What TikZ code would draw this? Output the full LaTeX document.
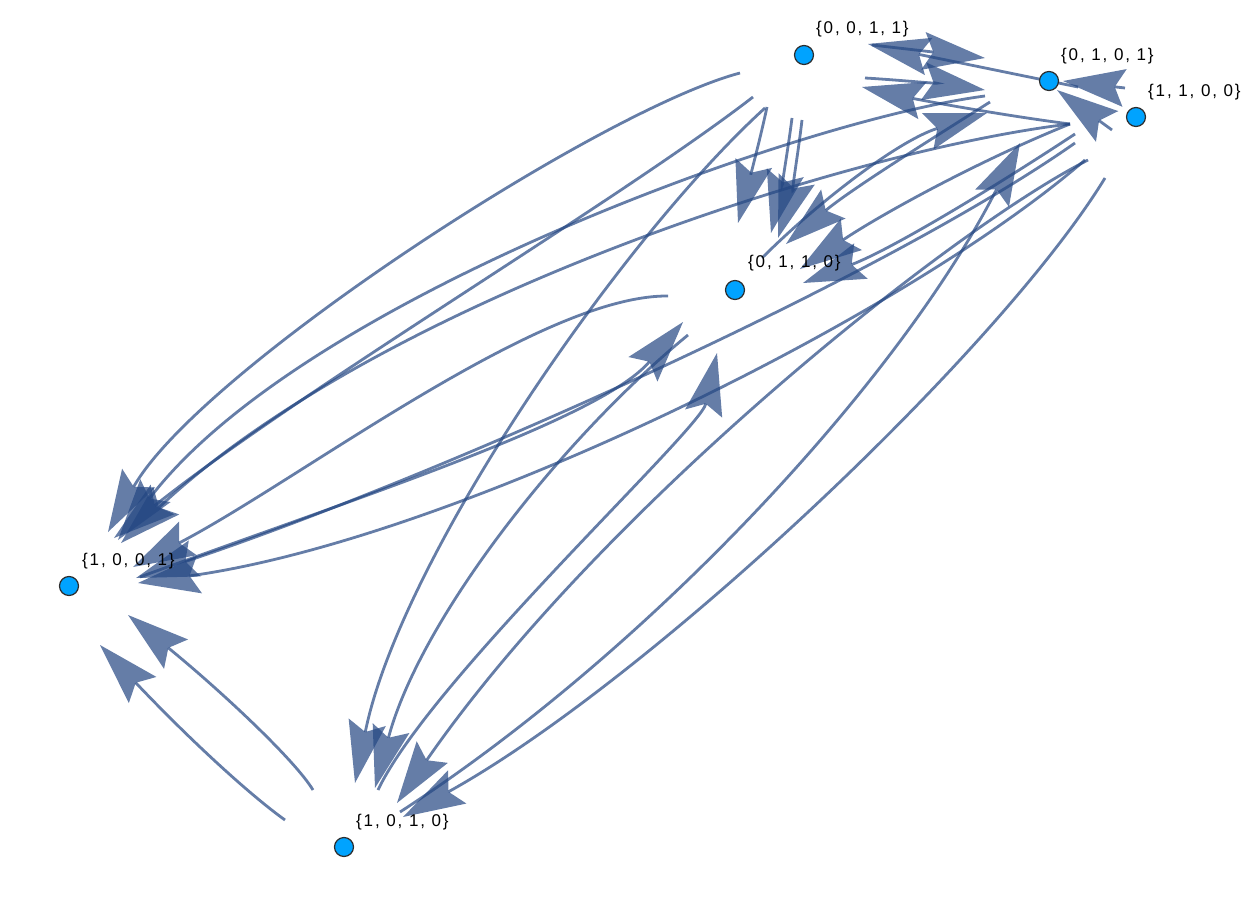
\documentclass[tikz,border=0pt]{standalone}
\usepackage{fontspec}
\newfontfamily\labfont[LetterSpace=11]{Liberation Sans}
\usetikzlibrary{arrows.meta}
\definecolor{ecol}{RGB}{35,70,130}
\definecolor{vfill}{RGB}{0,163,255}
\definecolor{vline}{RGB}{45,45,45}
\begin{document}
\begin{tikzpicture}[x=1pt,y=-1pt,
  edge/.style={draw=ecol, opacity=0.7, line width=2.8pt, -{Stealth[length=62pt,width=38pt,inset=10pt,line width=0pt]}},
  vert/.style={circle, fill=vfill, draw=vline, line width=1.2pt, minimum size=19pt, inner sep=0pt},
  lab/.style={anchor=base west, inner sep=0pt, font=\labfont\fontsize{17}{19}\selectfont}]
\useasboundingbox (0,0) rectangle (1248,904);
% ---- edge end points ----
\coordinate (e1s) at (740,73);   \coordinate (e1t) at (108,532);
\coordinate (e2s) at (753,97);   \coordinate (e2t) at (114,538);
\coordinate (e3s) at (985,96);   \coordinate (e3t) at (118,540);
\coordinate (e4s) at (1070,124); \coordinate (e4t) at (121,543);
\coordinate (e5s) at (668,296);  \coordinate (e5t) at (133,567);
\coordinate (e6s) at (1075,143); \coordinate (e6t) at (136,578);
\coordinate (e7s) at (1085,160); \coordinate (e7t) at (138,583);
\coordinate (e8s) at (285,820);  \coordinate (e8t) at (100,645);
\coordinate (e9s) at (313,790);  \coordinate (e9t) at (128,615);
\coordinate (d1s) at (767,107);  \coordinate (d1t) at (738,223);
\coordinate (d2s) at (792,118);  \coordinate (d2t) at (771,233);
\coordinate (d3s) at (802,120);  \coordinate (d3t) at (778,238);
\coordinate (d4s) at (990,102);  \coordinate (d4t) at (786,244);
\coordinate (d5s) at (1070,124); \coordinate (d5t) at (800,269);
\coordinate (d6s) at (1075,134); \coordinate (d6t) at (803,283);
\coordinate (d7s) at (140,577);  \coordinate (d7t) at (683,322);
\coordinate (d8s) at (378,790);  \coordinate (d8t) at (717,353);
\coordinate (f1s) at (765,108);  \coordinate (f1t) at (355,783);
\coordinate (f2s) at (688,335);  \coordinate (f2t) at (375,788);
\coordinate (f3s) at (1088,160); \coordinate (f3t) at (397,803);
\coordinate (f4s) at (1105,178); \coordinate (f4t) at (403,817);
\coordinate (t1s) at (1078,87);  \coordinate (t1t) at (868,44);
\coordinate (t2s) at (872,45);   \coordinate (t2t) at (985,58);
\coordinate (t3s) at (1125,88);  \coordinate (t3t) at (1063,81);
\coordinate (t4s) at (1112,130); \coordinate (t4t) at (1057,90);
\coordinate (t5s) at (865,78);   \coordinate (t5t) at (985,90);
\coordinate (t6s) at (1070,124); \coordinate (t6t) at (862,87);
\coordinate (t7s) at (762,258);  \coordinate (t7t) at (987,113);
\coordinate (t8s) at (400,812);  \coordinate (t8t) at (1020,143);
% ---- edges ----
\draw[edge] (e1s) .. controls (600,110) and (200,370) .. (e1t);
\draw[edge] (e2s) .. controls (620,200) and (300,390) .. (e2t);
\draw[edge] (e3s) .. controls (800,120) and (300,300) .. (e3t);
\draw[edge] (e4s) .. controls (850,150) and (380,300) .. (e4t);
\draw[edge] (e5s) .. controls (540,295) and (300,480) .. (e5t);
\draw[edge] (e6s) .. controls (880,280) and (430,480) .. (e6t);
\draw[edge] (e7s) .. controls (900,320) and (450,540) .. (e7t);
\draw[edge] (e8s) .. controls (250,795) and (190,740) .. (e8t);
\draw[edge] (e9s) .. controls (295,760) and (220,690) .. (e9t);
\draw[edge] (d1s) .. controls (760,140) and (748,185) .. (d1t);
\draw[edge] (d2s) .. controls (788,150) and (780,195) .. (d2t);
\draw[edge] (d3s) .. controls (798,155) and (790,200) .. (d3t);
\draw[edge] (d4s) .. controls (930,140) and (850,190) .. (d4t);
\draw[edge] (d5s) .. controls (980,160) and (880,215) .. (d5t);
\draw[edge] (d6s) .. controls (990,190) and (890,250) .. (d6t);
\draw[edge] (d7s) .. controls (350,500) and (600,420) .. (d7t);
\draw[edge] (d8s) .. controls (430,680) and (700,430) .. (d8t);
\draw[edge] (f1s) .. controls (620,240) and (400,560) .. (f1t);
\draw[edge] (f2s) .. controls (560,440) and (420,620) .. (f2t);
\draw[edge] (f3s) .. controls (950,230) and (600,510) .. (f3t);
\draw[edge] (f4s) .. controls (1000,350) and (650,680) .. (f4t);
\draw[edge] (t1s) -- (t1t);
\draw[edge] (t2s) -- (t2t);
\draw[edge] (t3s) -- (t3t);
\draw[edge] (t4s) -- (t4t);
\draw[edge] (t5s) .. controls (900,80) and (950,85) .. (t5t);
\draw[edge] (t6s) .. controls (1000,115) and (920,100) .. (t6t);
\draw[edge] (t7s) .. controls (820,200) and (900,140) .. (t7t);
\draw[edge] (t8s) .. controls (650,650) and (900,380) .. (t8t);
% ---- vertices ----
\node[vert] (A) at (804,55) {};
\node[vert] (B) at (1049,81) {};
\node[vert] (C) at (1136,117) {};
\node[vert] (D) at (735,290) {};
\node[vert] (E) at (69,586) {};
\node[vert] (F) at (344,847) {};
\node[lab] (lA) at (816,34) {\{0, 0, 1, 1\}};
\node[lab] (lB) at (1061,61) {\{0, 1, 0, 1\}};
\node[lab] (lC) at (1148,97) {\{1, 1, 0, 0\}};
\node[lab] (lD) at (748,268) {\{0, 1, 1, 0\}};
\node[lab] (lE) at (82,565) {\{1, 0, 0, 1\}};
\node[lab] (lF) at (356,826) {\{1, 0, 1, 0\}};
\end{tikzpicture}
\end{document}
